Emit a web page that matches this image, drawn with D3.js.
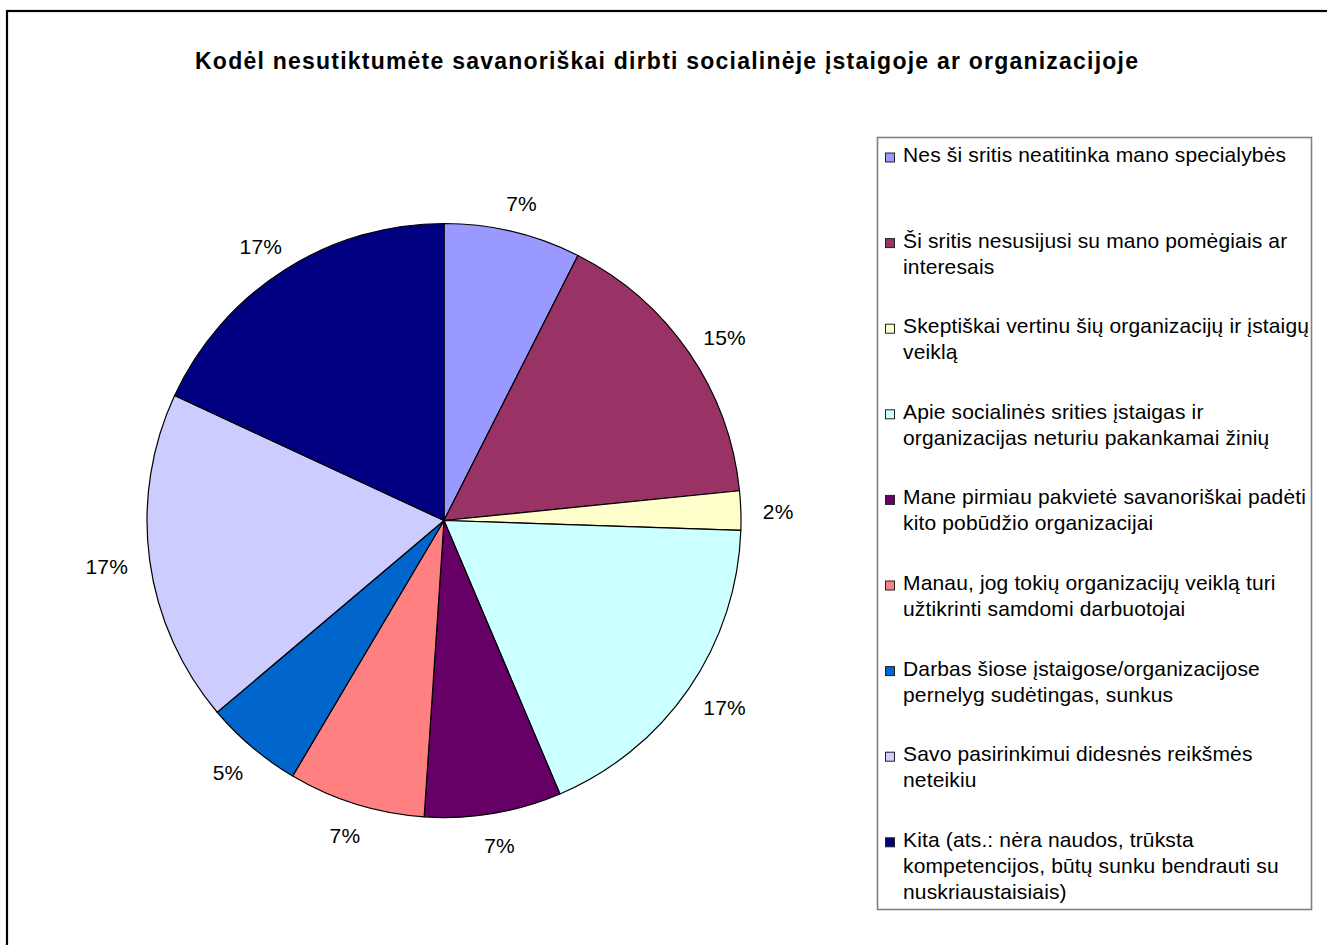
<!DOCTYPE html>
<html>
<head>
<meta charset="utf-8">
<script src="https://cdn.jsdelivr.net/npm/d3@7/dist/d3.min.js"></script>
<style>
  html, body { margin: 0; padding: 0; background: #fff; }
  svg { display: block; font-family: "Liberation Sans", Arial, sans-serif; }
</style>
</head>
<body>
<svg id="chart" width="1327" height="945"></svg>
<script>
// Answer categories (legend lines as wrapped in the legend box)
const categories = [
  ["Nes ši sritis neatitinka mano specialybės"],
  ["Ši sritis nesusijusi su mano pomėgiais ar", "interesais"],
  ["Skeptiškai vertinu šių organizacijų ir įstaigų", "veiklą"],
  ["Apie socialinės srities įstaigas ir", "organizacijas neturiu pakankamai žinių"],
  ["Mane pirmiau pakvietė savanoriškai padėti", "kito pobūdžio organizacijai"],
  ["Manau, jog tokių organizacijų veiklą turi", "užtikrinti samdomi darbuotojai"],
  ["Darbas šiose įstaigose/organizacijose", "pernelyg sudėtingas, sunkus"],
  ["Savo pasirinkimui didesnės reikšmės", "neteikiu"],
  ["Kita (ats.: nėra naudos, trūksta", "kompetencijos, būtų sunku bendrauti su", "nuskriaustaisiais)"]
];
// Share of answers, percent
const values = [7, 15, 2, 17, 7, 7, 5, 17, 17];
const colors = ["#9999FF", "#993366", "#FFFFCC", "#CCFFFF", "#660066",
                "#FF8080", "#0066CC", "#CCCCFF", "#000080"];
const title = "Kodėl nesutiktumėte savanoriškai dirbti socialinėje įstaigoje ar organizacijoje";

const svg = d3.select("#chart");

// Chart area frame (runs off the right and bottom edges)
svg.append("rect")
  .attr("x", 7).attr("y", 11)
  .attr("width", 1340).attr("height", 960)
  .attr("fill", "#fff").attr("stroke", "#000").attr("stroke-width", 2.2);

svg.append("text")
  .attr("x", 195).attr("y", 68.5)
  .attr("font-weight", "bold")
  .attr("font-size", 23)
  .attr("textLength", 943)
  .attr("lengthAdjust", "spacing")
  .text(title);

// Pie
const cx = 444, cy = 520.5, R = 297;
const pie = d3.pie().sort(null).value(d => d)(values);
const arc = d3.arc().innerRadius(0).outerRadius(R);
const g = svg.append("g").attr("transform", `translate(${cx},${cy})`);

g.selectAll("path.slice")
  .data(pie)
  .join("path")
  .attr("class", "slice")
  .attr("d", arc)
  .attr("fill", (d, i) => colors[i])
  .attr("stroke", "#000")
  .attr("stroke-width", 1.2)
  .attr("stroke-linejoin", "round");

// Value labels: the label box sits just outside the rim along the slice's mid-angle
const labelR = 319;
const labels = g.selectAll("text.lbl")
  .data(pie)
  .join("text")
  .attr("class", "lbl")
  .attr("text-anchor", "middle")
  .attr("dy", "0.35em")
  .attr("font-size", 21)
  .attr("letter-spacing", 0.2)
  .attr("fill", "#000")
  .text(d => d.data + "%");

labels.each(function(d) {
  const a = (d.startAngle + d.endAngle) / 2;
  const ux = Math.sin(a), uy = -Math.cos(a);
  const bb = this.getBBox();
  const x = labelR * ux + (bb.width / 2) * ux;
  const y = labelR * uy + (15 / 2 + 1) * uy + 2;
  d3.select(this).attr("x", x).attr("y", y);
});

// Legend
const lx = 877, ly = 137, lw = 434, lh = 772;
svg.append("rect")
  .attr("x", lx + 0.5).attr("y", ly + 0.5)
  .attr("width", lw).attr("height", lh)
  .attr("fill", "#fff").attr("stroke", "#808080").attr("stroke-width", 1.6);

const step = 85.6, lineH = 26;
const items = svg.append("g").selectAll("g")
  .data(categories)
  .join("g")
  .attr("transform", (d, i) => `translate(0,${155 + i * step})`);

items.append("rect")
  .attr("x", 885.5).attr("y", -2)
  .attr("width", 9).attr("height", 9)
  .attr("fill", (d, i) => colors[i])
  .attr("stroke", "#222").attr("stroke-width", 1);

items.append("text")
  .attr("font-size", 21)
  .attr("letter-spacing", 0.15)
  .attr("fill", "#000")
  .selectAll("tspan")
  .data(d => d)
  .join("tspan")
  .attr("x", 903)
  .attr("y", (d, j) => 7 + j * lineH)
  .text(d => d);
</script>
</body>
</html>
